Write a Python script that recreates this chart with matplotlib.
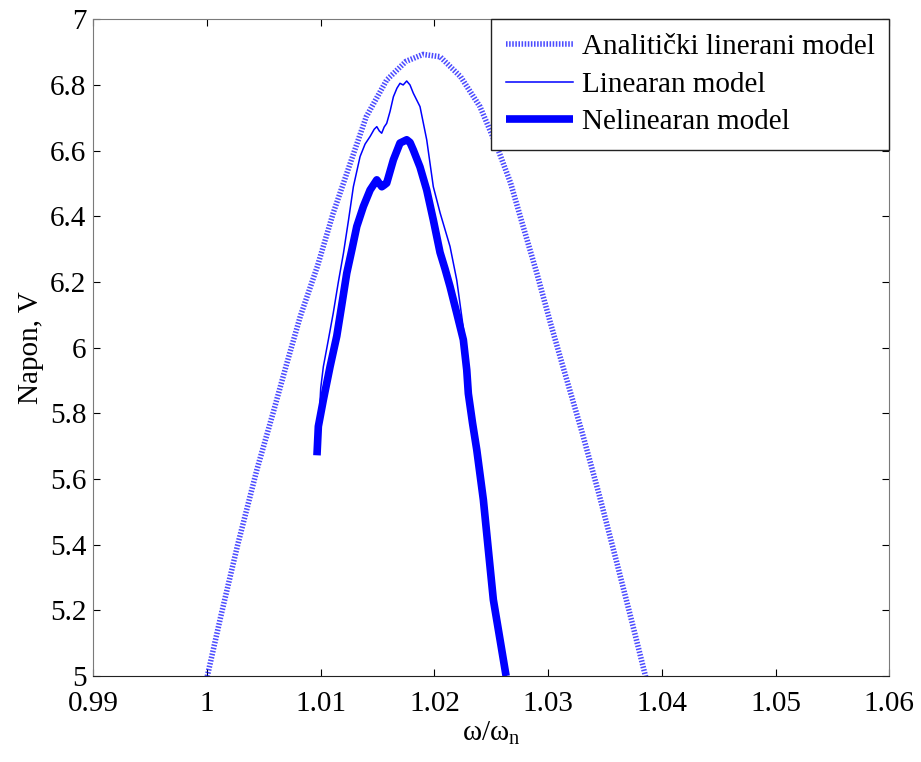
import matplotlib
matplotlib.use('Agg')
import matplotlib.pyplot as plt

# ========== 字体设置 (Times 风格) ==========
plt.rcParams['font.family'] = ['Liberation Serif', 'DejaVu Serif']
plt.rcParams['mathtext.fontset'] = 'custom'
plt.rcParams['mathtext.rm'] = 'Liberation Serif'
plt.rcParams['mathtext.it'] = 'Liberation Serif:italic'

# ========== 数据 ==========
# 解析线性模型
ana_x = [0.9999, 1.0012, 1.0027, 1.0044, 1.0058, 1.0070, 1.0082, 1.0097, 1.0111, 1.0126,
         1.0140, 1.0158, 1.0175, 1.0190, 1.0205, 1.0223, 1.0240, 1.0255, 1.0267, 1.0278,
         1.0290, 1.0302, 1.0313, 1.0330, 1.0345, 1.0360, 1.0374, 1.0387]
ana_y = [4.98, 5.18, 5.40, 5.63, 5.80, 5.95, 6.095, 6.247, 6.41, 6.562,
         6.703, 6.815, 6.872, 6.893, 6.886, 6.825, 6.734, 6.612, 6.501, 6.369,
         6.227, 6.075, 5.942, 5.74, 5.55, 5.35, 5.16, 4.98]

# 线性模型
lin_x = [1.00967, 1.00985, 1.01000, 1.01023, 1.01065, 1.01110, 1.01155, 1.01200, 1.01245, 1.01287,
         1.01346, 1.01390, 1.01434, 1.01470, 1.01493, 1.01515, 1.01536, 1.01558, 1.01580, 1.01610,
         1.01639, 1.01670, 1.01697, 1.01725, 1.01756, 1.01785, 1.01814, 1.01873, 1.01932, 1.01990,
         1.02050, 1.02137, 1.02196, 1.02240, 1.02270, 1.02298, 1.02335, 1.02372, 1.02430, 1.02474,
         1.02518, 1.02577, 1.02630]
lin_y = [5.68, 5.78, 5.877, 5.942, 6.02, 6.105, 6.20, 6.288, 6.39, 6.49,
         6.582, 6.62, 6.643, 6.665, 6.673, 6.66, 6.653, 6.672, 6.683, 6.72,
         6.764, 6.79, 6.805, 6.80, 6.812, 6.80, 6.775, 6.734, 6.633, 6.49,
         6.41, 6.308, 6.206, 6.095, 6.02, 5.90, 5.79, 5.689, 5.537, 5.384,
         5.232, 5.11, 5.00]

# 非线性模型
nl_x = [1.00967, 1.00979, 1.01023, 1.01082, 1.01141, 1.01185, 1.01229, 1.01275, 1.01317, 1.01375,
        1.01434, 1.01493, 1.01515, 1.01537, 1.01558, 1.01580, 1.01639, 1.01697, 1.01756, 1.01785,
        1.01814, 1.01873, 1.01932, 1.01990, 1.02049, 1.02093, 1.02137, 1.02196, 1.02254, 1.02284,
        1.02298, 1.02335, 1.02372, 1.02430, 1.02474, 1.02518, 1.02577, 1.02630]
nl_y = [5.672, 5.76, 5.841, 5.942, 6.035, 6.13, 6.227, 6.30, 6.369, 6.43,
        6.48, 6.511, 6.50, 6.49, 6.495, 6.501, 6.572, 6.623, 6.633, 6.625,
        6.602, 6.55, 6.48, 6.389, 6.29, 6.24, 6.186, 6.105, 6.024, 5.932,
        5.86, 5.77, 5.689, 5.537, 5.384, 5.232, 5.11, 5.00]

labels = ['Analitički linerani model', 'Linearan model', 'Nelinearan model']
x_ticks = [0.99, 1.0, 1.01, 1.02, 1.03, 1.04, 1.05, 1.06]
x_ticklabels = ['0.99', '1', '1.01', '1.02', '1.03', '1.04', '1.05', '1.06']
y_ticks = [5, 5.2, 5.4, 5.6, 5.8, 6, 6.2, 6.4, 6.6, 6.8, 7]
y_ticklabels = ['5', '5.2', '5.4', '5.6', '5.8', '6', '6.2', '6.4', '6.6', '6.8', '7']

fs = 21

# ========== 画图 ==========
fig = plt.figure(figsize=(9.21, 7.62), dpi=100)
ax = fig.add_axes([0.1013, 0.1129, 0.8643, 0.8618])

ax.plot(ana_x, ana_y, color='blue', alpha=0.7, linewidth=4.0,
        linestyle=(0, (0.28, 0.28)), label=labels[0])
ax.plot(lin_x, lin_y, color='blue', linewidth=1.1, label=labels[1])
ax.plot(nl_x, nl_y, color='blue', linewidth=5.5, solid_capstyle='butt', label=labels[2])

ax.set_xlim(0.99, 1.06)
ax.set_ylim(5, 7)
ax.set_xticks(x_ticks)
ax.set_xticklabels(x_ticklabels)
ax.set_yticks(y_ticks)
ax.set_yticklabels(y_ticklabels)
ax.tick_params(direction='in', length=5, width=0.8, top=True, right=True, labelsize=fs)
ax.tick_params(axis='x', pad=11)
ax.tick_params(axis='y', pad=5)

for side in ['left', 'top', 'right']:
    ax.spines[side].set_color('#7a7a7a')
ax.spines['bottom'].set_color('#222222')

ax.set_xlabel('ω/ω$_\\mathrm{n}$', fontsize=fs, labelpad=2)
ax.set_ylabel('Napon, V', fontsize=fs, labelpad=4)

leg = ax.legend(loc='upper right', fontsize=fs, frameon=True, fancybox=False,
                borderaxespad=0, handlelength=2.3, handletextpad=0.3,
                labelspacing=0.38, borderpad=0.5)
leg.get_frame().set_edgecolor('#222222')
leg.get_frame().set_linewidth(1.0)
leg.get_frame().set_alpha(1)

plt.savefig('out.png', dpi=100)
